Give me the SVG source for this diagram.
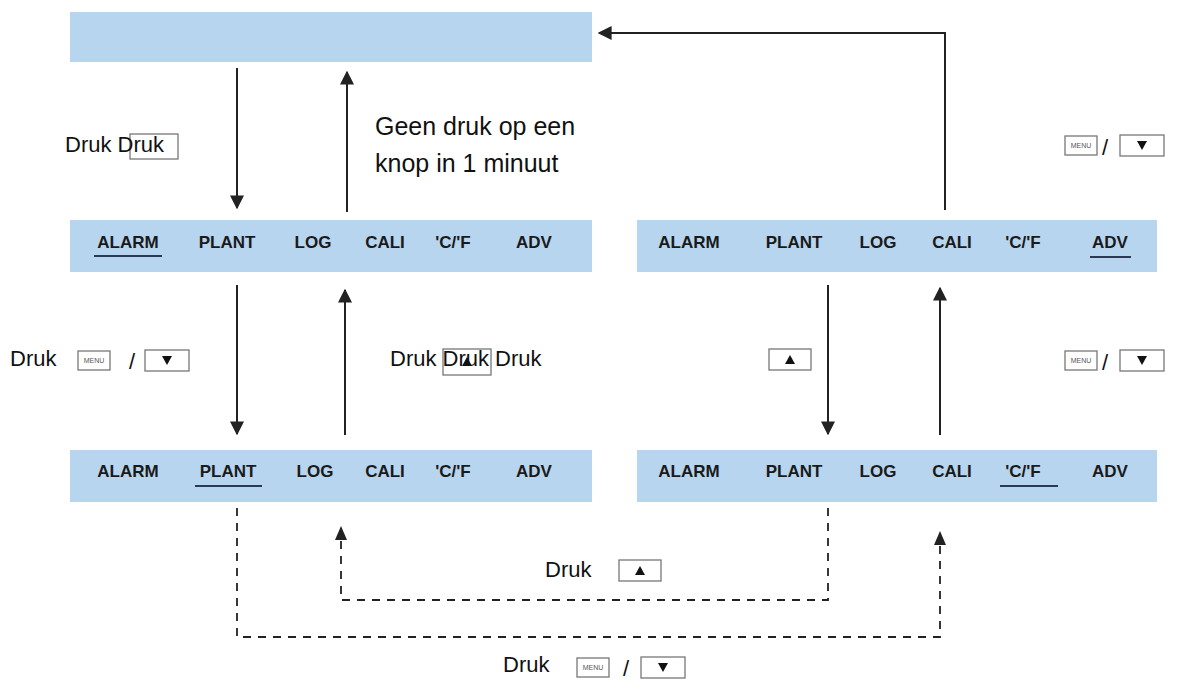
<svg xmlns="http://www.w3.org/2000/svg" width="1187" height="687" viewBox="0 0 1187 687">
<style>
.p{fill:#b7d5ee}
.l{font-family:"Liberation Sans",Arial,sans-serif;font-weight:bold;font-size:17px;fill:#1a1a1a;text-anchor:middle}
.t{font-family:"Liberation Sans",Arial,sans-serif;font-size:22px;fill:#111}
.g{font-family:"Liberation Sans",Arial,sans-serif;font-size:25px;fill:#111}
.k{fill:#fff;stroke:#777;stroke-width:1.3}
.m{font-family:"Liberation Sans",Arial,sans-serif;font-size:7px;fill:#555;text-anchor:middle}
.u{stroke:#2a3a55;stroke-width:2}
.c{fill:none;stroke:#222;stroke-width:2}
.d{fill:none;stroke:#222;stroke-width:1.8;stroke-dasharray:8,7}
</style>
<defs>
<marker id="a" viewBox="0 0 10 10" refX="9" refY="5" markerWidth="7" markerHeight="7" orient="auto"><path d="M0,0L10,5L0,10z" fill="#222"/></marker>
<g id="menu"><rect class="k" width="32" height="19"/><text class="m" x="16" y="12">MENU</text></g>
<g id="dn"><rect class="k" width="44" height="21"/><path d="M17,6h10l-5,9z" fill="#111"/></g>
<g id="up"><rect class="k" width="42" height="21"/><path d="M16,15h10l-5,-9z" fill="#111"/></g>
</defs>
<g id="top"><rect class="p" x="70" y="12" width="522" height="50"/></g>
<g id="panelA"><rect class="p" x="70" y="220" width="522" height="52"/>
<text class="l" x="128" y="248">ALARM</text><text class="l" x="227" y="248">PLANT</text><text class="l" x="313" y="248">LOG</text><text class="l" x="385" y="248">CALI</text><text class="l" x="453" y="248">'C/'F</text><text class="l" x="534" y="248">ADV</text>
<line class="u" x1="94" y1="256" x2="162" y2="256"/></g>
<g id="panelB"><rect class="p" x="637" y="220" width="520" height="52"/>
<text class="l" x="689" y="248">ALARM</text><text class="l" x="794" y="248">PLANT</text><text class="l" x="878" y="248">LOG</text><text class="l" x="952" y="248">CALI</text><text class="l" x="1023" y="248">'C/'F</text><text class="l" x="1110" y="248">ADV</text>
<line class="u" x1="1090" y1="257" x2="1131" y2="257"/></g>
<g id="panelC"><rect class="p" x="70" y="450" width="522" height="52"/>
<text class="l" x="128" y="477">ALARM</text><text class="l" x="228" y="477">PLANT</text><text class="l" x="315" y="477">LOG</text><text class="l" x="385" y="477">CALI</text><text class="l" x="453" y="477">'C/'F</text><text class="l" x="534" y="477">ADV</text>
<line class="u" x1="195" y1="486" x2="262" y2="486"/></g>
<g id="panelD"><rect class="p" x="637" y="450" width="520" height="52"/>
<text class="l" x="689" y="477">ALARM</text><text class="l" x="794" y="477">PLANT</text><text class="l" x="878" y="477">LOG</text><text class="l" x="952" y="477">CALI</text><text class="l" x="1023" y="477">'C/'F</text><text class="l" x="1110" y="477">ADV</text>
<line class="u" x1="1000" y1="486" x2="1058" y2="486"/></g>
<g id="connectors">
<path class="c" d="M237,68V208" marker-end="url(#a)"/>
<path class="c" d="M347,212V72" marker-end="url(#a)"/>
<path class="c" d="M945,210V33H599" marker-end="url(#a)"/>
<path class="c" d="M237,285V434" marker-end="url(#a)"/>
<path class="c" d="M345,435V290" marker-end="url(#a)"/>
<path class="c" d="M828,285V434" marker-end="url(#a)"/>
<path class="c" d="M940,435V288" marker-end="url(#a)"/>
<path class="d" d="M828,508V600H341V528"/>
<path d="M335,540L341,526L347,540z" fill="#222"/>
<path class="d" d="M237,508V637H940V545"/>
<path d="M934,545L940,531L946,545z" fill="#222"/>
</g>
<g id="labels">
<rect class="k" x="130" y="134" width="48" height="25" fill="none"/>
<text class="t" x="65" y="152">Druk Druk</text>
<text class="g" x="375" y="135">Geen druk op een</text>
<text class="g" x="375" y="172">knop in 1 minuut</text>
<text class="t" x="10" y="366">Druk</text>
<use href="#menu" x="78" y="351"/><text class="t" x="129" y="369">/</text><use href="#dn" x="145" y="350"/>
<rect class="k" x="443" y="349" width="48" height="26" fill="none"/>
<path d="M462,366h10l-5,-9z" fill="#111"/>
<text class="t" x="390" y="366">Druk Druk Druk</text>
<use href="#up" x="769" y="349"/>
<use href="#menu" x="1065" y="136"/><text class="t" x="1102" y="155">/</text><use href="#dn" x="1120" y="135"/>
<use href="#menu" x="1065" y="351"/><text class="t" x="1102" y="370">/</text><use href="#dn" x="1120" y="350"/>
<text class="t" x="545" y="577">Druk</text><use href="#up" x="619" y="560"/>
<text class="t" x="503" y="672">Druk</text><use href="#menu" x="577" y="658"/><text class="t" x="623" y="676">/</text><use href="#dn" x="641" y="657"/>
</g>
</svg>
